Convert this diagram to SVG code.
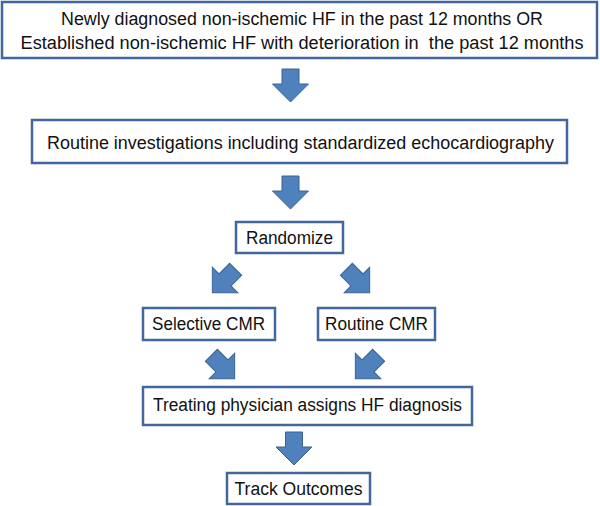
<svg xmlns="http://www.w3.org/2000/svg" xmlns:xlink="http://www.w3.org/1999/xlink" width="600" height="506" viewBox="0 0 600 506">
<style>
.box{fill:#fff;stroke:#41679c;stroke-width:2.5}
.t{font-family:"Liberation Sans",Arial,sans-serif;font-size:18px;fill:#111;text-anchor:middle}
.arr{fill:#4f81bd;stroke:#3b6393;stroke-width:1}
</style>
<defs>
<path id="arr" d="M-8.5,-16.5 H8.5 V-1.5 H18 L0,16.5 L-18,-1.5 H-8.5 Z"/>
</defs>
<rect width="600" height="506" fill="#fff"/>
<g id="connectors">
<use xlink:href="#arr" class="arr" transform="translate(290.5,85.5)"/>
<use xlink:href="#arr" class="arr" transform="translate(290.5,192.5)"/>
<use xlink:href="#arr" class="arr" transform="translate(224,281) rotate(45)"/>
<use xlink:href="#arr" class="arr" transform="translate(358,281) rotate(-45)"/>
<use xlink:href="#arr" class="arr" transform="translate(223,367) rotate(-45)"/>
<use xlink:href="#arr" class="arr" transform="translate(367,367) rotate(45)"/>
<use xlink:href="#arr" class="arr" transform="translate(294,448.5)"/>
</g>
<g id="n1">
<rect class="box" x="2" y="2" width="595" height="56"/>
<text class="t" x="302" y="25" textLength="482" lengthAdjust="spacingAndGlyphs">Newly diagnosed non-ischemic HF in the past 12 months OR</text>
<text class="t" x="302" y="49" textLength="563" lengthAdjust="spacingAndGlyphs" xml:space="preserve">Established non-ischemic HF with deterioration in  the past 12 months</text>
</g>
<g id="n2">
<rect class="box" x="32" y="120" width="535" height="43"/>
<text class="t" x="300.5" y="149" textLength="507" lengthAdjust="spacingAndGlyphs">Routine investigations including standardized echocardiography</text>
</g>
<g id="n3">
<rect class="box" x="236" y="222" width="107" height="31"/>
<text class="t" x="289.5" y="244" textLength="87" lengthAdjust="spacingAndGlyphs">Randomize</text>
</g>
<g id="n4">
<rect class="box" x="143" y="308" width="132" height="32"/>
<text class="t" x="208.5" y="330" textLength="113" lengthAdjust="spacingAndGlyphs">Selective CMR</text>
</g>
<g id="n5">
<rect class="box" x="318" y="308" width="117" height="32"/>
<text class="t" x="376.5" y="330" textLength="103" lengthAdjust="spacingAndGlyphs">Routine CMR</text>
</g>
<g id="n6">
<rect class="box" x="143" y="387" width="329" height="38"/>
<text class="t" x="307.5" y="411" textLength="309" lengthAdjust="spacingAndGlyphs">Treating physician assigns HF diagnosis</text>
</g>
<g id="n7">
<rect class="box" x="227" y="473" width="143" height="31"/>
<text class="t" x="298.5" y="495" textLength="128" lengthAdjust="spacingAndGlyphs">Track Outcomes</text>
</g>
</svg>
